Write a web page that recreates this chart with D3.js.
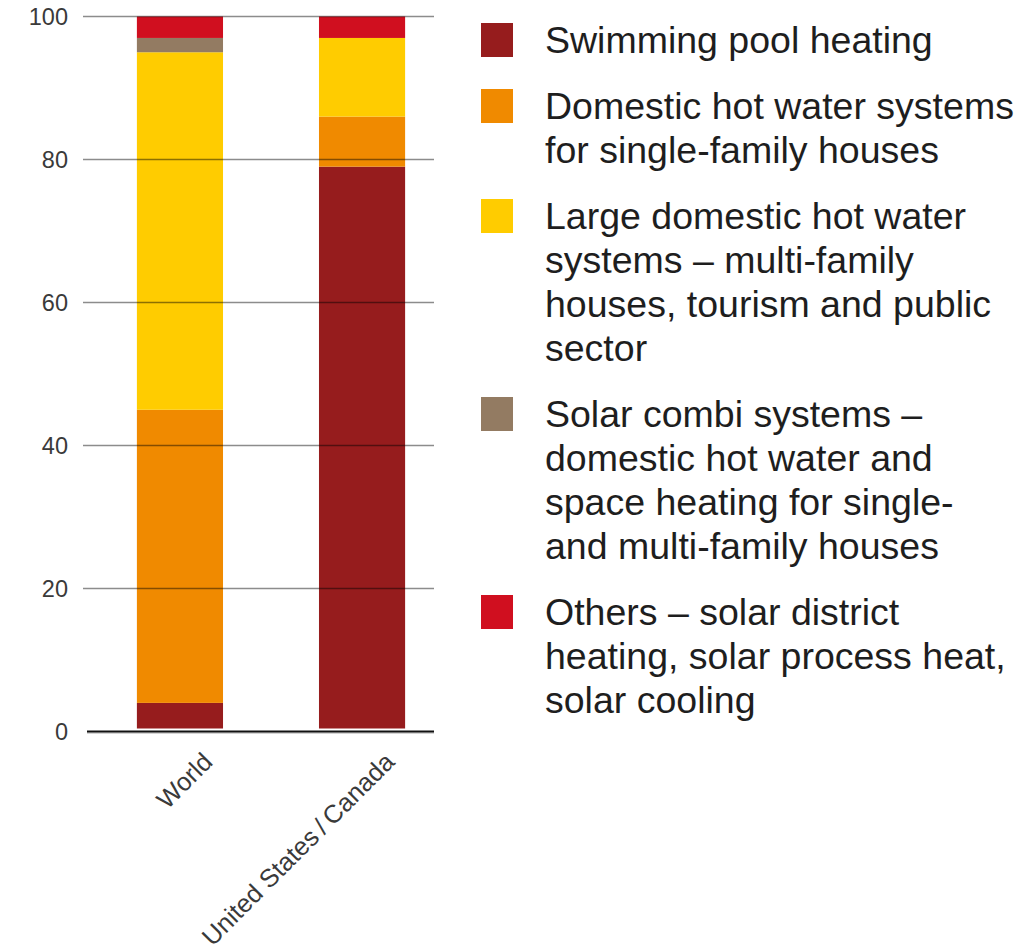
<!DOCTYPE html>
<html>
<head>
<meta charset="utf-8">
<script src="https://cdn.jsdelivr.net/npm/d3@7"></script>
<style>
  html, body { margin: 0; padding: 0; background: #fff; }
  svg { display: block; }
</style>
</head>
<body>
<svg id="chart" width="1033" height="945"></svg>
<script>
// ---- data ----
const categories = ["World", "United States\u2009/\u2009Canada"];
const seriesNames = [
  "Swimming pool heating",
  "Domestic hot water systems for single-family houses",
  "Large domestic hot water systems – multi-family houses, tourism and public sector",
  "Solar combi systems – domestic hot water and space heating for single- and multi-family houses",
  "Others – solar district heating, solar process heat, solar cooling"
];
const legendLines = [
  ["Swimming pool heating"],
  ["Domestic hot water systems", "for single-family houses"],
  ["Large domestic hot water", "systems – multi-family", "houses, tourism and public", "sector"],
  ["Solar combi systems –", "domestic hot water and", "space heating for single-", "and multi-family houses"],
  ["Others – solar district", "heating, solar process heat,", "solar cooling"]
];
const swimmingPool   = [4, 79];
const domesticSingle = [41, 7];
const largeDomestic  = [50, 11];
const solarCombi     = [2, 0];
const others         = [3, 3];
const yTicks = [0, 20, 40, 60, 80, 100];
const colors = ["#961c1d", "#f08a00", "#ffcc00", "#937b62", "#d00f1f"];

// ---- build table ----
const seriesValues = [swimmingPool, domesticSingle, largeDomestic, solarCombi, others];
const keys = seriesNames;
const table = categories.map((c, i) => {
  const row = { category: c };
  keys.forEach((k, j) => row[k] = seriesValues[j][i]);
  return row;
});
const stacked = d3.stack().keys(keys)(table);

const svg = d3.select("#chart");

const x = d3.scaleBand()
  .domain(categories)
  .range([89, 453])
  .paddingInner(0.527)
  .paddingOuter(0.263);

const y = d3.scaleLinear().domain([0, 100]).range([731.5, 16.5]);

const color = d3.scaleOrdinal().domain(keys).range(colors);

// bars
const g = svg.append("g");
g.selectAll("g.series")
  .data(stacked)
  .join("g")
  .attr("class", "series")
  .attr("fill", d => color(d.key))
  .selectAll("rect")
  .data(d => d)
  .join("rect")
  .attr("x", d => x(d.data.category))
  .attr("width", x.bandwidth())
  .attr("y", d => y(d[1]))
  .attr("height", d => Math.max(0, y(d[0]) - y(d[1]) - (d[0] === 0 ? 3 : 0)));

// gridlines (drawn over bars)
const gridX0 = 83, gridX1 = 434;
svg.append("g")
  .selectAll("line")
  .data(yTicks.filter(t => t > 0))
  .join("line")
  .attr("x1", gridX0).attr("x2", gridX1)
  .attr("y1", d => y(d)).attr("y2", d => y(d))
  .attr("stroke", "rgba(0,0,0,0.45)")
  .attr("stroke-width", 1.5);

// baseline
svg.append("line")
  .attr("x1", 87).attr("x2", gridX1)
  .attr("y1", y(0) + 1.5).attr("y2", y(0) + 1.5)
  .attr("stroke", "#aaa").attr("stroke-width", 1);
svg.append("line")
  .attr("x1", 87).attr("x2", gridX1)
  .attr("y1", y(0)).attr("y2", y(0))
  .attr("stroke", "#111").attr("stroke-width", 2.2);

// y axis labels
const yAxis = d3.axisLeft(y).tickValues(yTicks).tickSize(0).tickPadding(0);
const ya = svg.append("g").attr("transform", "translate(68,0)").call(yAxis);
ya.select(".domain").remove();
ya.selectAll("text")
  .attr("font-family", "'Liberation Sans', Arial, sans-serif")
  .attr("font-size", 23.5)
  .attr("fill", "#3a3a3a")
  .attr("dy", "0.36em");

// x axis labels
const xAxis = d3.axisBottom(x).tickSize(0).tickPadding(0);
const xa = svg.append("g").attr("transform", `translate(0,${y(0)})`).call(xAxis);
xa.select(".domain").remove();
xa.selectAll("text")
  .attr("font-family", "'Liberation Sans', Arial, sans-serif")
  .attr("font-size", 25.5)
  .attr("fill", "#3a3a3a")
  .attr("text-anchor", "end")
  .attr("dy", 0)
  .attr("transform", "translate(34,32) rotate(-45)");

// legend
const legend = svg.append("g").attr("class", "legend");
let ly = 53;
const lineH = 44;
legendLines.forEach((lines, i) => {
  const item = legend.append("g");
  item.append("rect")
    .attr("x", 481).attr("y", ly - 30)
    .attr("width", 32).attr("height", 34)
    .attr("fill", colors[i]);
  const t = item.append("text")
    .attr("font-family", "'Liberation Sans', Arial, sans-serif")
    .attr("font-size", 37.5)
    .attr("fill", "#1e1e1e");
  lines.forEach((ln, k) => {
    t.append("tspan").attr("x", 545).attr("y", ly + k * lineH).text(ln);
  });
  ly += lines.length * lineH + 22;
});
</script>
</body>
</html>
